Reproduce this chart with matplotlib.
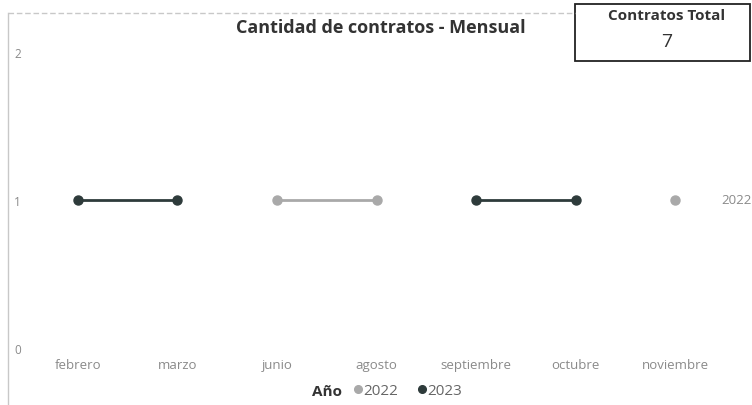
import numpy as np
import matplotlib
matplotlib.use("Agg")
import matplotlib.pyplot as plt
from matplotlib.lines import Line2D
from matplotlib.patches import Rectangle

months = ["febrero", "marzo", "junio", "agosto", "septiembre", "octubre", "noviembre"]
serie_2022 = [np.nan, np.nan, 1, 1, np.nan, np.nan, 1]
serie_2023 = [1, 1, np.nan, np.nan, 1, 1, np.nan]
yticks = [0, 1, 2]
total_contratos = 7

c2022 = "#a9a9a9"
c2023 = "#2e3b3b"
FONT = "Open Sans"

W, H = 752, 406
fig = plt.figure(figsize=(W / 100, H / 100), dpi=100)
fig.patch.set_facecolor("white")

def fx(px):
    return px / W

def fy(py):
    return 1 - py / H

ax_left, ax_right = 28, 725
ax_top, ax_bot = 53, 349
ax = fig.add_axes([fx(ax_left), fy(ax_bot), fx(ax_right - ax_left), (ax_bot - ax_top) / H])
x = np.arange(len(months))
ax.plot(x, serie_2022, color=c2022, lw=2, marker="o", ms=6.5, clip_on=False, label="2022")
ax.plot(x, serie_2023, color=c2023, lw=2, marker="o", ms=6.5, clip_on=False, label="2023")
ax.set_xlim(-0.5, len(months) - 0.5)
ax.set_ylim(0, 2)
ax.set_xticks(x)
ax.set_xticklabels(months, fontsize=9.5, color="#8a8a8a", family=FONT)
ax.set_yticks(yticks)
ax.set_yticklabels([str(v) for v in yticks], fontsize=8.5, color="#8a8a8a", family=FONT)
ax.tick_params(axis="both", length=0)
ax.tick_params(axis="x", pad=7)
ax.tick_params(axis="y", pad=5)
for s in ax.spines.values():
    s.set_visible(False)

# series label
last_idx = max(i for i, v in enumerate(serie_2022) if not np.isnan(v))
ax.annotate("2022", (x[last_idx], serie_2022[last_idx]), xytext=(33, 0),
            textcoords="offset points", va="center", ha="left",
            fontsize=9.5, color="#8a8a8a", family=FONT, annotation_clip=False)

# frame lines
fig.add_artist(Line2D([fx(8), fx(8)], [fy(14), fy(406)], color="#c8c8c8", lw=1))
fig.add_artist(Line2D([fx(8), fx(575)], [fy(14), fy(14)], color="#c8c8c8", lw=1, ls=(0, (4, 2))))

# title
fig.text(fx(381), fy(28), "Cantidad de contratos - Mensual", ha="center", va="center",
         fontsize=13, fontweight="bold", color="#333333", family=FONT)

# card
fig.add_artist(Rectangle((fx(575), fy(62)), fx(750 - 575), (62 - 5) / H,
                         facecolor="white", edgecolor="#222222", lw=1.3))
fig.text(fx(667), fy(16), "Contratos Total", ha="center", va="center",
         fontsize=11, fontweight="bold", color="#333333", family=FONT)
fig.text(fx(667), fy(42), str(total_contratos), ha="center", va="center",
         fontsize=14, color="#333333", family=FONT)

# legend
fig.text(fx(327), fy(392), "Año", ha="center", va="center", fontsize=11,
         fontweight="bold", color="#333333", family=FONT)
handles = [Line2D([], [], marker="o", ls="", color=c2022, ms=5.5),
           Line2D([], [], marker="o", ls="", color=c2023, ms=5.5)]
fig.legend(handles, ["2022", "2023"], loc="center left", bbox_to_anchor=(fx(350), fy(392)),
           ncol=2, frameon=False, handletextpad=-0.1, columnspacing=1.0,
           borderaxespad=0, borderpad=0, handlelength=1.0,
           prop={"family": FONT, "size": 11}, labelcolor="#666666")

fig.savefig("out.png", dpi=100)
